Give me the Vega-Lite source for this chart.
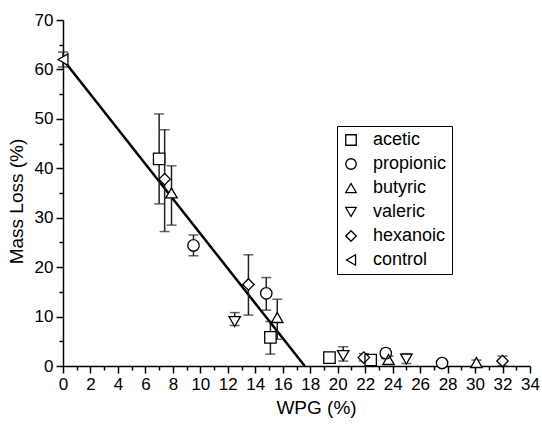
{
  "$schema": "https://vega.github.io/schema/vega-lite/v6.json",
  "width": 467,
  "height": 346,
  "autosize": {"type": "none"},
  "padding": {"left": 63, "top": 20, "right": 12, "bottom": 60},
  "background": "white",
  "config": {
    "view": {"stroke": null},
    "font": "Liberation Sans",
    "axis": {"domainColor": "black", "domainWidth": 1.5, "tickColor": "black", "tickWidth": 1.5, "labelColor": "black", "titleColor": "black", "labelFontSize": 17, "titleFontSize": 19, "titleFontWeight": "normal", "grid": false, "labelOverlap": false}
  },
  "datasets": {
    "pts": [
      {"acid": "control", "wpg": 0, "loss": 62, "lo": 60.5, "hi": 63.5},
      {"acid": "acetic", "wpg": 7.0, "loss": 41.9, "lo": 32.8, "hi": 51.0},
      {"acid": "hexanoic", "wpg": 7.4, "loss": 37.8, "lo": 27.2, "hi": 47.8},
      {"acid": "butyric", "wpg": 7.9, "loss": 35.0, "lo": 28.5, "hi": 40.5},
      {"acid": "propionic", "wpg": 9.5, "loss": 24.4, "lo": 22.3, "hi": 26.5},
      {"acid": "valeric", "wpg": 12.5, "loss": 9.0, "lo": 8.2, "hi": 10.8},
      {"acid": "hexanoic", "wpg": 13.5, "loss": 16.5, "lo": 10.3, "hi": 22.5},
      {"acid": "propionic", "wpg": 14.8, "loss": 14.7, "lo": 11.3, "hi": 17.9},
      {"acid": "acetic", "wpg": 15.1, "loss": 5.8, "lo": 2.4, "hi": 9.0},
      {"acid": "butyric", "wpg": 15.6, "loss": 9.8, "lo": 5.4, "hi": 13.5},
      {"acid": "acetic", "wpg": 19.4, "loss": 1.7, "lo": 1.4, "hi": 2.0},
      {"acid": "valeric", "wpg": 20.4, "loss": 2.1, "lo": 1.0, "hi": 3.9},
      {"acid": "hexanoic", "wpg": 21.9, "loss": 1.7, "lo": 1.0, "hi": 2.5},
      {"acid": "acetic", "wpg": 22.4, "loss": 1.2, "lo": 0.5, "hi": 2.0},
      {"acid": "propionic", "wpg": 23.5, "loss": 2.6, "lo": 1.5, "hi": 3.5},
      {"acid": "butyric", "wpg": 23.7, "loss": 1.3, "lo": 0.5, "hi": 2.0},
      {"acid": "valeric", "wpg": 25.0, "loss": 1.4, "lo": 0.5, "hi": 2.5},
      {"acid": "propionic", "wpg": 27.6, "loss": 0.6, "lo": 0.0, "hi": 1.2},
      {"acid": "butyric", "wpg": 30.1, "loss": 0.7, "lo": 0.0, "hi": 1.2},
      {"acid": "hexanoic", "wpg": 32.0, "loss": 1.0, "lo": 0.0, "hi": 2.0}
    ],
    "fit": [
      {"wpg": 0, "loss": 62},
      {"wpg": 17.6, "loss": 0}
    ]
  },
  "resolve": {"legend": {"shape": "independent"}},
  "layer": [
    {
      "data": {"name": "fit"},
      "mark": {"type": "line", "color": "black", "strokeWidth": 2.5},
      "encoding": {
        "x": {"field": "wpg", "type": "quantitative", "scale": {"domain": [0, 34], "nice": false, "zero": false},
          "axis": {"title": "WPG (%)", "values": [0,1,2,3,4,5,6,7,8,9,10,11,12,13,14,15,16,17,18,19,20,21,22,23,24,25,26,27,28,29,30,31,32,33,34],
            "tickCount": 200, "format": "d",
            "labelExpr": "datum.value % 2 === 0 ? datum.label : ''", "labelOverlap": false,
            "tickSize": {"condition": {"test": "datum.value % 2 === 0", "value": 7}, "value": 4},
            "labelPadding": 3, "titlePadding": 6, "titleX": 253, "labelFlush": false}},
        "y": {"field": "loss", "type": "quantitative", "scale": {"domain": [0, 70], "nice": false},
          "axis": {"title": "Mass Loss (%)", "values": [0,5,10,15,20,25,30,35,40,45,50,55,60,65,70],
            "tickCount": 200, "format": "d",
            "labelExpr": "datum.value % 10 === 0 ? datum.label : ''", "labelOverlap": false,
            "tickSize": {"condition": {"test": "datum.value % 10 === 0", "value": 7}, "value": 4},
            "labelPadding": 3, "titlePadding": 8, "titleY": 181, "labelFlush": false}}
      }
    },
    {
      "data": {"name": "pts"},
      "mark": {"type": "rule", "color": "#222", "strokeWidth": 1.5},
      "encoding": {
        "x": {"field": "wpg", "type": "quantitative"},
        "y": {"field": "lo", "type": "quantitative"},
        "y2": {"field": "hi"}
      }
    },
    {
      "data": {"name": "pts"},
      "mark": {"type": "tick", "orient": "horizontal", "color": "#222", "size": 10, "thickness": 1.5},
      "encoding": {
        "x": {"field": "wpg", "type": "quantitative"},
        "y": {"field": "lo", "type": "quantitative"}
      }
    },
    {
      "data": {"name": "pts"},
      "mark": {"type": "tick", "orient": "horizontal", "color": "#222", "size": 10, "thickness": 1.5},
      "encoding": {
        "x": {"field": "wpg", "type": "quantitative"},
        "y": {"field": "hi", "type": "quantitative"}
      }
    },
    {
      "data": {"name": "pts"},
      "mark": {"type": "point", "filled": true, "color": "white", "size": 130, "opacity": 1},
      "encoding": {
        "x": {"field": "wpg", "type": "quantitative"},
        "y": {"field": "loss", "type": "quantitative"},
        "shape": {"field": "acid", "type": "nominal",
          "scale": {"domain": ["acetic", "propionic", "butyric", "valeric", "hexanoic", "control"],
            "range": ["square", "circle", "triangle-up", "triangle-down", "diamond", "triangle-left"]},
          "legend": null}
      }
    },
    {
      "data": {"name": "pts"},
      "mark": {"type": "point", "filled": false, "color": "black", "strokeWidth": 1.3, "size": 130, "opacity": 1},
      "encoding": {
        "x": {"field": "wpg", "type": "quantitative"},
        "y": {"field": "loss", "type": "quantitative"},
        "shape": {"field": "acid", "type": "nominal",
          "legend": {"title": null, "orient": "none", "legendX": 274, "legendY": 106,
            "strokeColor": "black", "padding": 5, "labelFontSize": 18, "labelColor": "black",
            "symbolSize": 110, "symbolStrokeWidth": 1.3,
            "rowPadding": 6, "labelOffset": 13, "labelLimit": 200}}
      }
    }
  ]
}
